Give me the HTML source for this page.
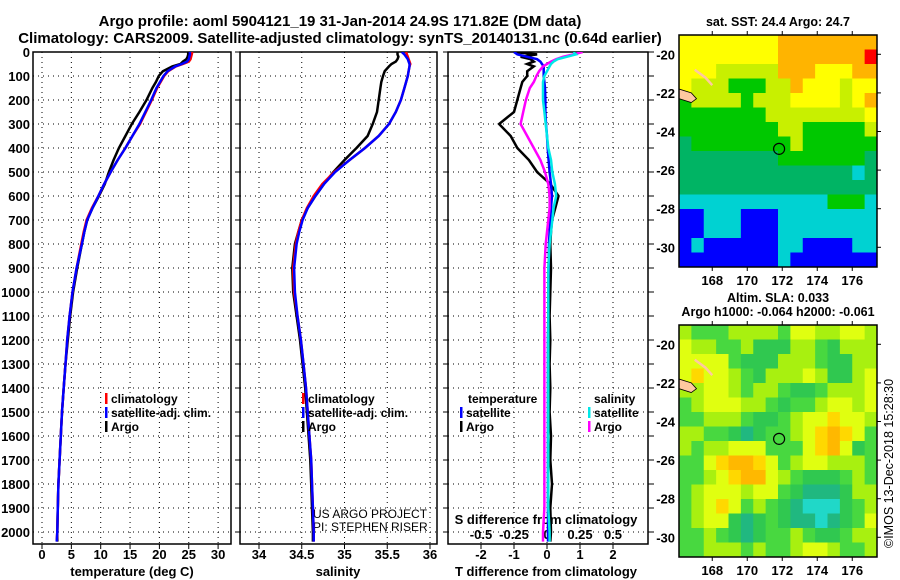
<!DOCTYPE html>
<html><head><meta charset="utf-8"><style>
html,body{margin:0;padding:0;background:#fff;}
svg{display:block;font-family:"Liberation Sans",sans-serif;}
.b{font-weight:bold;}
</style></head><body>
<svg id="fig" width="900" height="580" viewBox="0 0 900 580" xmlns="http://www.w3.org/2000/svg">
<text x="340" y="26" text-anchor="middle" font-size="15" class="b">Argo profile: aoml 5904121_19 31-Jan-2014 24.9S 171.82E (DM data)</text>
<text x="340" y="43" text-anchor="middle" font-size="15" class="b">Climatology: CARS2009. Satellite-adjusted climatology: synTS_20140131.nc (0.64d earlier)</text>
<text x="778" y="26" text-anchor="middle" font-size="12.5" class="b">sat. SST: 24.4 Argo: 24.7</text>
<text x="778" y="302" text-anchor="middle" font-size="12.5" class="b">Altim. SLA: 0.033</text>
<text x="778" y="316" text-anchor="middle" font-size="12.5" class="b">Argo h1000: -0.064 h2000: -0.061</text>
<text transform="translate(893,548) rotate(-90)" font-size="12.5">©IMOS 13-Dec-2018 15:28:30</text>
<g id="g"></g>
</svg>
<script>
// ---------- data ----------
const depths=[0,10,20,30,40,50,60,80,100,125,150,200,250,300,350,400,450,500,550,600,650,700,750,800,900,1000,1100,1200,1300,1400,1500,1600,1700,1800,1900,2000,2040];
const tempClim=[25.6,25.5,25.4,25.3,25,24,22.8,21.5,20.8,20.2,19.6,18.7,17.7,16.7,15.4,14.2,12.9,11.7,10.6,9.6,8.5,7.6,7.1,6.7,5.9,5.2,4.7,4.3,4.0,3.7,3.4,3.2,3.0,2.8,2.7,2.6,2.5];
const tempSat=[25.2,25.2,25.1,25.0,24.7,23.8,22.7,21.4,20.7,20.1,19.5,18.6,17.6,16.6,15.4,14.2,12.9,11.7,10.6,9.6,8.6,7.7,7.2,6.8,5.9,5.2,4.7,4.3,4.0,3.7,3.4,3.2,3.0,2.8,2.7,2.6,2.5];
const tempArgo=[24.9,24.9,24.8,24.6,24.0,23.6,22.2,20.6,19.9,19.4,18.8,17.8,16.6,15.3,14.2,13.1,12.2,11.4,10.7,9.7,8.6,7.7,7.2,6.8,6.0,5.3,4.8,4.4,4.0,3.7,3.4,3.2,3.0,2.8,2.7,2.6,2.6];
const salClim=[35.72,35.73,35.74,35.75,35.76,35.77,35.76,35.75,35.74,35.72,35.7,35.66,35.6,35.52,35.4,35.24,35.06,34.88,34.74,34.64,34.56,34.5,34.46,34.43,34.4,34.41,34.45,34.49,34.52,34.55,34.57,34.59,34.61,34.62,34.63,34.64,34.64];
const salSat=[35.67,35.7,35.72,35.74,35.75,35.76,35.76,35.75,35.74,35.72,35.7,35.66,35.6,35.52,35.4,35.24,35.06,34.89,34.76,34.66,34.57,34.51,34.47,34.44,34.41,34.42,34.45,34.49,34.52,34.55,34.57,34.59,34.61,34.62,34.63,34.64,34.64];
const salArgo=[35.62,35.62,35.63,35.62,35.6,35.55,35.52,35.47,35.45,35.43,35.42,35.4,35.38,35.33,35.27,35.14,35.0,34.87,34.76,34.66,34.57,34.5,34.46,34.42,34.39,34.4,34.44,34.48,34.51,34.54,34.56,34.58,34.6,34.61,34.62,34.63,34.63];
const dTArgo=[-1.0,-0.3,-0.8,-0.5,-0.4,-0.6,-0.4,-0.6,-0.6,-0.75,-0.8,-0.9,-1.0,-1.45,-1.1,-0.9,-0.55,-0.3,0.1,0.35,0.25,0.15,0.12,0.1,0.12,0.1,0.08,0.1,0.08,0.1,0.08,0.12,0.1,0.15,0.1,0.12,0.1];
const dTSat=[-1.0,-0.9,-0.6,-0.3,-0.2,-0.15,-0.1,-0.1,-0.1,-0.08,-0.06,-0.05,-0.05,-0.03,0,0.02,0.05,0.08,0.12,0.15,0.12,0.1,0.08,0.06,0.05,0.04,0.04,0.03,0.03,0.03,0.03,0.03,0.03,0.03,0.03,0.03,0.03];
const dSSat=[0.2,0.22,0.15,0.08,0.05,0.03,0.02,0,-0.02,-0.03,-0.03,-0.03,-0.02,-0.01,0,0.01,0.03,0.04,0.06,0.07,0.05,0.04,0.03,0.02,0.01,0.01,0.01,0.01,0.01,0.01,0.01,0.01,0.01,0.01,0.01,0.02,0.02];
const dSArgo=[0.27,0.2,0.12,0.07,0.03,0,-0.03,-0.06,-0.08,-0.1,-0.13,-0.16,-0.18,-0.2,-0.15,-0.1,-0.05,-0.015,0.01,0.02,0.02,0.01,0,-0.01,-0.02,-0.02,-0.02,-0.02,-0.02,-0.02,-0.02,-0.02,-0.02,-0.02,-0.02,-0.03,-0.03];
const depthTicks=[0,100,200,300,400,500,600,700,800,900,1000,1100,1200,1300,1400,1500,1600,1700,1800,1900,2000];
const tempTicks=[0,5,10,15,20,25,30];
const salTicks=[34,34.5,35,35.5,36];
const salTickLabels=["34","34.5","35","35.5","36"];
const dTTicks=[-2,-1,0,1,2];
const dSTicks=[-0.5,-0.25,0,0.25,0.5];
const dSTickLabels=["-0.5","-0.25","0","0.25","0.5"];
const lonTicks=[168,170,172,174,176];
const latTicks=[-20,-22,-24,-26,-28,-30];
const argoLon=171.82, argoLat=-24.9;
const sstGrid=["yyyyyyyyoooooooo","yyyyyyyyooooooor","yyyllllloooyyyoo","ylllggglloyyylyy","gllllglllyyyylyo","ggggggglllllllly","ggggggggllgggggl","dgggggggglgggggg","ddddddddgggggggd","ddddddddddddddcd","dddddddddddddddd","ccccccccccccgggc","bbcccbbbcccccccc","bbcccbbbcccccccc","bcbbbbbbccbbbbcc","bbbbbbbbcbbbbbbb"];
const slaGrid=["lgggllllgyyllyyl","yllgglGGGllgGlll","yyyygGGGlllgGGll","yoyylgGlllylGGly","llyylgllgGGgllly","glyyyllgGgglyyly","gglllgGGglyyoyyl","llggGdGgglyoOoyg","lgllyyygggyoOyGg","ggyoOOoyglyylllg","gglyoOOylgGGGglg","glyyylyygGdddGll","glyoyglgGdcccGgl","glyyGdGgGddcdGgy","gglgGdGgglgGGgll","gglllglgglyylggl"];
const sstColors={r:"#ff0000",o:"#ffb400",y:"#ffff00",l:"#c8f000",g:"#00c800",d:"#00b464",c:"#00d2d2",b:"#0000ff"};
const slaColors={y:"#e0ff10",l:"#a8f010",g:"#48d840",G:"#30c850",d:"#20b880",c:"#20d8c8",o:"#ffd800",O:"#ffb800"};

// ---------- helpers ----------
const NS="http://www.w3.org/2000/svg";
const G=document.getElementById('g');
function mk(tag,attrs,parent){const e=document.createElementNS(NS,tag);for(const k in attrs)e.setAttribute(k,attrs[k]);(parent||G).appendChild(e);return e;}
function txt(s,x,y,attrs,parent){const e=mk('text',Object.assign({x:x,y:y,'font-size':13,'font-weight':'bold'},attrs),parent);e.textContent=s;return e;}
const Y0=52,Y1=544;
const yD=d=>Y0+d*0.24;
const xT=v=>42+v*5.87;
const xS=v=>259+(v-34)*85.5;
const xD=v=>547+v*33;
const xDS=s=>xD(4*s);
const panels=[{x0:33,x1:231,name:'temperature-panel'},{x0:240,x1:437,name:'salinity-panel'},{x0:448,x1:648,name:'difference-panel'}];
const defs=mk('defs',{});
panels.forEach((p,i)=>{const c=mk('clipPath',{id:'clip'+i},defs);mk('rect',{x:p.x0,y:Y0,width:p.x1-p.x0,height:Y1-Y0},c);});

function line(vals,depthArr,xf,color,clip,name){
  let d='';vals.forEach((v,i)=>{d+=(i?'L':'M')+xf(v).toFixed(1)+','+yD(depthArr[i]).toFixed(1);});
  const p=mk('path',{d:d,fill:'none',stroke:color,'stroke-width':2.5,'clip-path':'url(#clip'+clip+')'});
  
  
}
function legend(items,x,y,parent){
  items.forEach((it,i)=>{
    const r=mk('rect',{x:x,y:y+i*14-10,width:2.5,height:11,fill:it[1]});
    
    
    const t=txt(it[0],x+6,y+i*14,{'font-size':12});
    
    
  });
}

// ---------- panels frames & grids ----------
panels.forEach((p,i)=>{
  const grp=mk('g',{});
  
  
  depthTicks.forEach(d=>{
    if(d>0) mk('line',{x1:p.x0,x2:p.x1,y1:yD(d),y2:yD(d),stroke:'#000','stroke-width':1,'stroke-dasharray':'1,4'},grp);
    if(i===2) mk('line',{x1:p.x1,x2:p.x1+6,y1:yD(d),y2:yD(d),stroke:'#000'},grp);
    if(i>0) mk('line',{x1:p.x0-5,x2:p.x0,y1:yD(d),y2:yD(d),stroke:'#000'},grp);
  });
  const ticks=i===0?tempTicks.map(xT):i===1?salTicks.map(xS):dTTicks.map(xD);
  ticks.forEach(x=>{
    mk('line',{x1:x,x2:x,y1:Y0,y2:Y1,stroke:'#000','stroke-width':1,'stroke-dasharray':'1,4'},grp);
    mk('line',{x1:x,x2:x,y1:Y1,y2:Y1+5,stroke:'#000'},grp);
  });
  const fr=mk('rect',{x:p.x0,y:Y0,width:p.x1-p.x0,height:Y1-Y0,fill:'none',stroke:'#000','stroke-width':1.5},grp);
  
  
});
depthTicks.forEach(d=>{
  const t=txt(String(d),30,yD(d)+5,{'text-anchor':'end'});
  
  
});
tempTicks.forEach(v=>{const t=txt(String(v),xT(v),559,{'text-anchor':'middle'});});
salTicks.forEach((v,i)=>{const t=txt(salTickLabels[i],xS(v),559,{'text-anchor':'middle'});});
dTTicks.forEach(v=>{const t=txt(String(v),xD(v),559,{'text-anchor':'middle'});});
dSTicks.forEach((v,i)=>{const t=txt(dSTickLabels[i],xDS(v),539,{'text-anchor':'middle'});});
let t;
t=txt('temperature (deg C)',132,576,{'text-anchor':'middle'});
t=txt('salinity',338,576,{'text-anchor':'middle'});
t=txt('T difference from climatology',546,576,{'text-anchor':'middle'});
t=txt('S difference from climatology',546,524,{'text-anchor':'middle'});
t=txt('US ARGO PROJECT',313,518,{'font-size':12,'font-weight':'normal'});
t=txt('PI: STEPHEN RISER',313,531,{'font-size':12,'font-weight':'normal'});

// ---------- profiles ----------
line(tempArgo,depths,xT,'#000000',0,'temperature-argo-line');
line(tempClim,depths,xT,'#ff0000',0,'temperature-climatology-line');
line(tempSat,depths,xT,'#0000ff',0,'temperature-satellite-line');
line(salArgo,depths,xS,'#000000',1,'salinity-argo-line');
line(salClim,depths,xS,'#ff0000',1,'salinity-climatology-line');
line(salSat,depths,xS,'#0000ff',1,'salinity-satellite-line');
line(dTArgo,depths,xD,'#000000',2,'t-diff-argo-line');
line(dTSat,depths,xD,'#0000ff',2,'t-diff-satellite-line');
line(dSArgo,depths,xDS,'#ff00ff',2,'s-diff-argo-line');
line(dSSat,depths,xDS,'#00e8e8',2,'s-diff-satellite-line');

legend([['climatology','#ff0000'],['satellite-adj. clim.','#0000ff'],['Argo','#000000']],105,403);
legend([['climatology','#ff0000'],['satellite-adj. clim.','#0000ff'],['Argo','#000000']],302,403);
t=txt('temperature',468,403,{'font-size':12});
legend([['satellite','#0000ff'],['Argo','#000000']],460,417);
t=txt('salinity',594,403,{'font-size':12});
legend([['satellite','#00e8e8'],['Argo','#ff00ff']],588,417);

// ---------- maps ----------
const MX0=679,MX1=877;
const xLon=l=>MX0+(l-166.1)*17.5;
function drawMap(y0,grid,colors,name,clipId){
  const y1=y0+232;
  const yLat=l=>y0+(-19-l)*19.3;
  const grp=mk('g',{});
  
  
  const c=mk('clipPath',{id:clipId},defs);mk('rect',{x:MX0,y:y0,width:MX1-MX0,height:y1-y0},c);
  const rows=grid.length,cols=grid[0].length,cw=(MX1-MX0)/cols,ch=(y1-y0)/rows;
  grid.forEach((row,r)=>{for(let k=0;k<cols;k++){
    const cell=mk('rect',{x:(MX0+k*cw).toFixed(2),y:(y0+r*ch).toFixed(2),width:(cw+0.5).toFixed(2),height:(ch+0.5).toFixed(2),fill:colors[row[k]]},grp);
    
    
  }});
  const land=mk('path',{d:`M${MX0},${yLat(-21.8)} L${xLon(166.8)},${yLat(-22)} L${xLon(167.1)},${yLat(-22.3)} L${xLon(166.8)},${yLat(-22.5)} L${MX0},${yLat(-22.3)} Z`,fill:'#ffc8a0',stroke:'#000','stroke-width':0.8,'clip-path':`url(#${clipId})`},grp);
  
  
  const isl=mk('path',{d:`M${xLon(167)},${yLat(-20.8)} L${xLon(167.6)},${yLat(-21.2)} L${xLon(168)},${yLat(-21.6)}`,fill:'none',stroke:'#ffc8a0','stroke-width':2.5},grp);
  
  
  const circ=mk('circle',{cx:xLon(argoLon),cy:yLat(argoLat),r:5.5,fill:'none',stroke:'#000','stroke-width':1.2},grp);
  
  
  const fr=mk('rect',{x:MX0,y:y0,width:MX1-MX0,height:y1-y0,fill:'none',stroke:'#000','stroke-width':1.5},grp);
  
  
  lonTicks.forEach(l=>{
    mk('line',{x1:xLon(l),x2:xLon(l),y1:y0-4,y2:y0,stroke:'#000'},grp);
    mk('line',{x1:xLon(l),x2:xLon(l),y1:y1,y2:y1+4,stroke:'#000'},grp);
    const tl=txt(String(l),xLon(l),y1+18,{'text-anchor':'middle','font-size':13});
    
    
  });
  latTicks.forEach(l=>{
    mk('line',{x1:MX1,x2:MX1+4,y1:yLat(l),y2:yLat(l),stroke:'#000'},grp);
    const tl=txt(String(l),675,yLat(l)+5,{'text-anchor':'end','font-size':13});
    
    
  });
}
drawMap(35,sstGrid,sstColors,'sst-map','clipSst');
drawMap(325,slaGrid,slaColors,'sla-map','clipSla');
</script>
</body></html>
